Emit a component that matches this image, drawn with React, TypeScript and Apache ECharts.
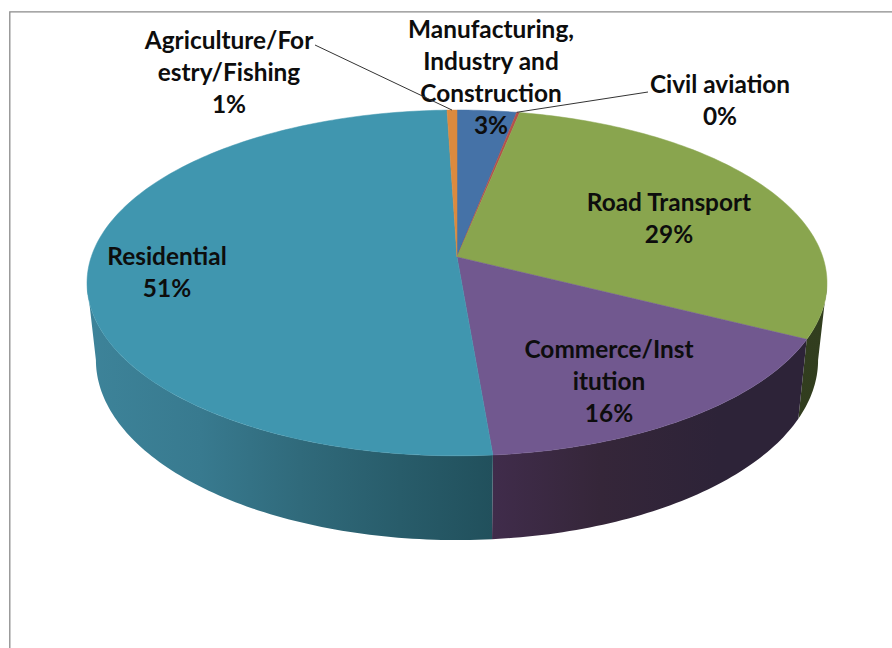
import React, { useEffect, useRef } from "react";
import * as echarts from "echarts";

const categories = [
  "Manufacturing,\nIndustry and\nConstruction",
  "Civil aviation",
  "Road Transport",
  "Commerce/Inst\nitution",
  "Residential",
  "Agriculture/For\nestry/Fishing",
];
const shares = [3.0, 0.15, 29.35, 16.17, 50.83, 0.5];

const topColors = ["#4572a7", "#b5504b", "#89a54e", "#71588f", "#4096af", "#dc8a3e"];
const wallStops: [number, string][][] = [
  [[0, "#2f4a6d"], [900, "#2f4a6d"]],
  [[0, "#6f2f2c"], [900, "#6f2f2c"]],
  [[700, "#343f20"], [830, "#313d1e"]],
  [[493, "#402c4b"], [600, "#352639"], [720, "#2d2338"], [830, "#2d2338"]],
  [[90, "#3d8399"], [200, "#387a8f"], [300, "#306a7b"], [400, "#285c6a"], [493, "#21505c"]],
  [[0, "#8e5a28"], [900, "#8e5a28"]],
];
const labelFirstLines: [number, number][] = [
  [491, 28],
  [720, 83],
  [669, 201],
  [609, 348],
  [167, 255],
  [229, 39],
];
const leaderStarts: ([number, number] | null)[] = [null, [648, 92], null, null, null, [315, 45]];

const FONT = "Lato";
const FONT_SIZE = 24.4;
const LINE_H = 32;
const K = 0.15;
const TOP = { cx: 457, y0: 257, a: 365.8, b: 169 };
const BOTTOM = { cx: 457, y0: 333, a: 357, b: 176 };
const WALL_FROM = 98.6;
const WALL_TO = 261.4;

const total = shares.reduce((s, v) => s + v, 0);
const starts: number[] = [];
shares.reduce((acc, v, i) => {
  starts[i] = (acc / total) * 360;
  return acc + v;
}, 0);
const ends = shares.map((v, i) => starts[i] + (v / total) * 360);

function project(d: typeof TOP, deg: number): [number, number] {
  const t = (deg * Math.PI) / 180;
  const u = Math.sin(t);
  const v = -Math.cos(t);
  const w = 1 - K * v;
  return [d.cx + (d.a * u) / w, d.y0 + (d.b * v) / w];
}

function wallFill(stops: [number, string][]) {
  const x0 = stops[0][0];
  const x1 = stops[stops.length - 1][0];
  return {
    type: "linear",
    global: true,
    x: x0,
    y: 0,
    x2: x1,
    y2: 0,
    colorStops: stops.map(([x, color]) => ({ offset: (x - x0) / (x1 - x0), color })),
  };
}

function renderWall(params: any) {
  const i = params.dataIndex;
  const from = Math.max(starts[i], WALL_FROM);
  const to = Math.min(ends[i], WALL_TO);
  if (to <= from) return { type: "group", children: [] };
  const n = Math.ceil(to - from);
  const upper: [number, number][] = [];
  const lower: [number, number][] = [];
  for (let s = 0; s <= n; s++) {
    const a = from + ((to - from) * s) / n;
    upper.push(project(TOP, a));
    lower.unshift(project(BOTTOM, a));
  }
  return {
    type: "polygon",
    shape: { points: [...upper, ...lower] },
    style: { fill: wallFill(wallStops[i]) },
  };
}

function renderTop(params: any) {
  const i = params.dataIndex;
  const pts: [number, number][] = [[TOP.cx, TOP.y0]];
  const n = Math.max(2, Math.ceil(ends[i] - starts[i]));
  for (let s = 0; s <= n; s++) {
    pts.push(project(TOP, starts[i] + ((ends[i] - starts[i]) * s) / n));
  }
  return {
    type: "polygon",
    shape: { points: pts },
    style: { fill: topColors[i], stroke: topColors[i], lineWidth: 0.5 },
  };
}

function renderLabel(params: any) {
  const i = params.dataIndex;
  const [x, y] = labelFirstLines[i];
  const pct = Math.round((shares[i] / total) * 100);
  const children: any[] = [];
  const lead = leaderStarts[i];
  if (lead) {
    const end = i === 1 ? project(TOP, starts[i]) : project(TOP, (starts[i] + ends[i]) / 2);
    children.push({
      type: "line",
      shape: { x1: lead[0], y1: lead[1], x2: end[0], y2: end[1] },
      style: { stroke: "#333333", lineWidth: 1 },
    });
  }
  children.push({
    type: "text",
    x,
    y: y - LINE_H / 2,
    style: {
      text: `${categories[i]}\n${pct}%`,
      fill: "#0d0d0d",
      font: `700 ${FONT_SIZE}px ${FONT}`,
      lineHeight: LINE_H,
      align: "center",
      verticalAlign: "top",
    },
  });
  return { type: "group", children };
}

export default function App() {
  const ref = useRef<HTMLDivElement>(null);
  useEffect(() => {
    document.body.style.margin = "0";
    const chart = echarts.init(ref.current!, undefined, { renderer: "svg" });
    const data = shares.map((v, i) => ({ name: categories[i], value: v }));
    chart.setOption({
      animation: false,
      backgroundColor: "#ffffff",
      graphic: [
        {
          type: "polyline",
          shape: { points: [[9.8, 648], [9.8, 11.8], [892, 11.8]] },
          style: { stroke: "#8a8a8a", lineWidth: 1.3, fill: "none" },
          z: 0,
        },
      ],
      series: [
        { type: "custom", coordinateSystem: "none", renderItem: renderWall, data, z: 1, silent: true },
        { type: "custom", coordinateSystem: "none", renderItem: renderTop, data, z: 2, silent: true },
        { type: "custom", coordinateSystem: "none", renderItem: renderLabel, data, z: 3, silent: true },
      ],
    });
    return () => chart.dispose();
  }, []);
  return <div ref={ref} style={{ width: 892, height: 648 }} />;
}
